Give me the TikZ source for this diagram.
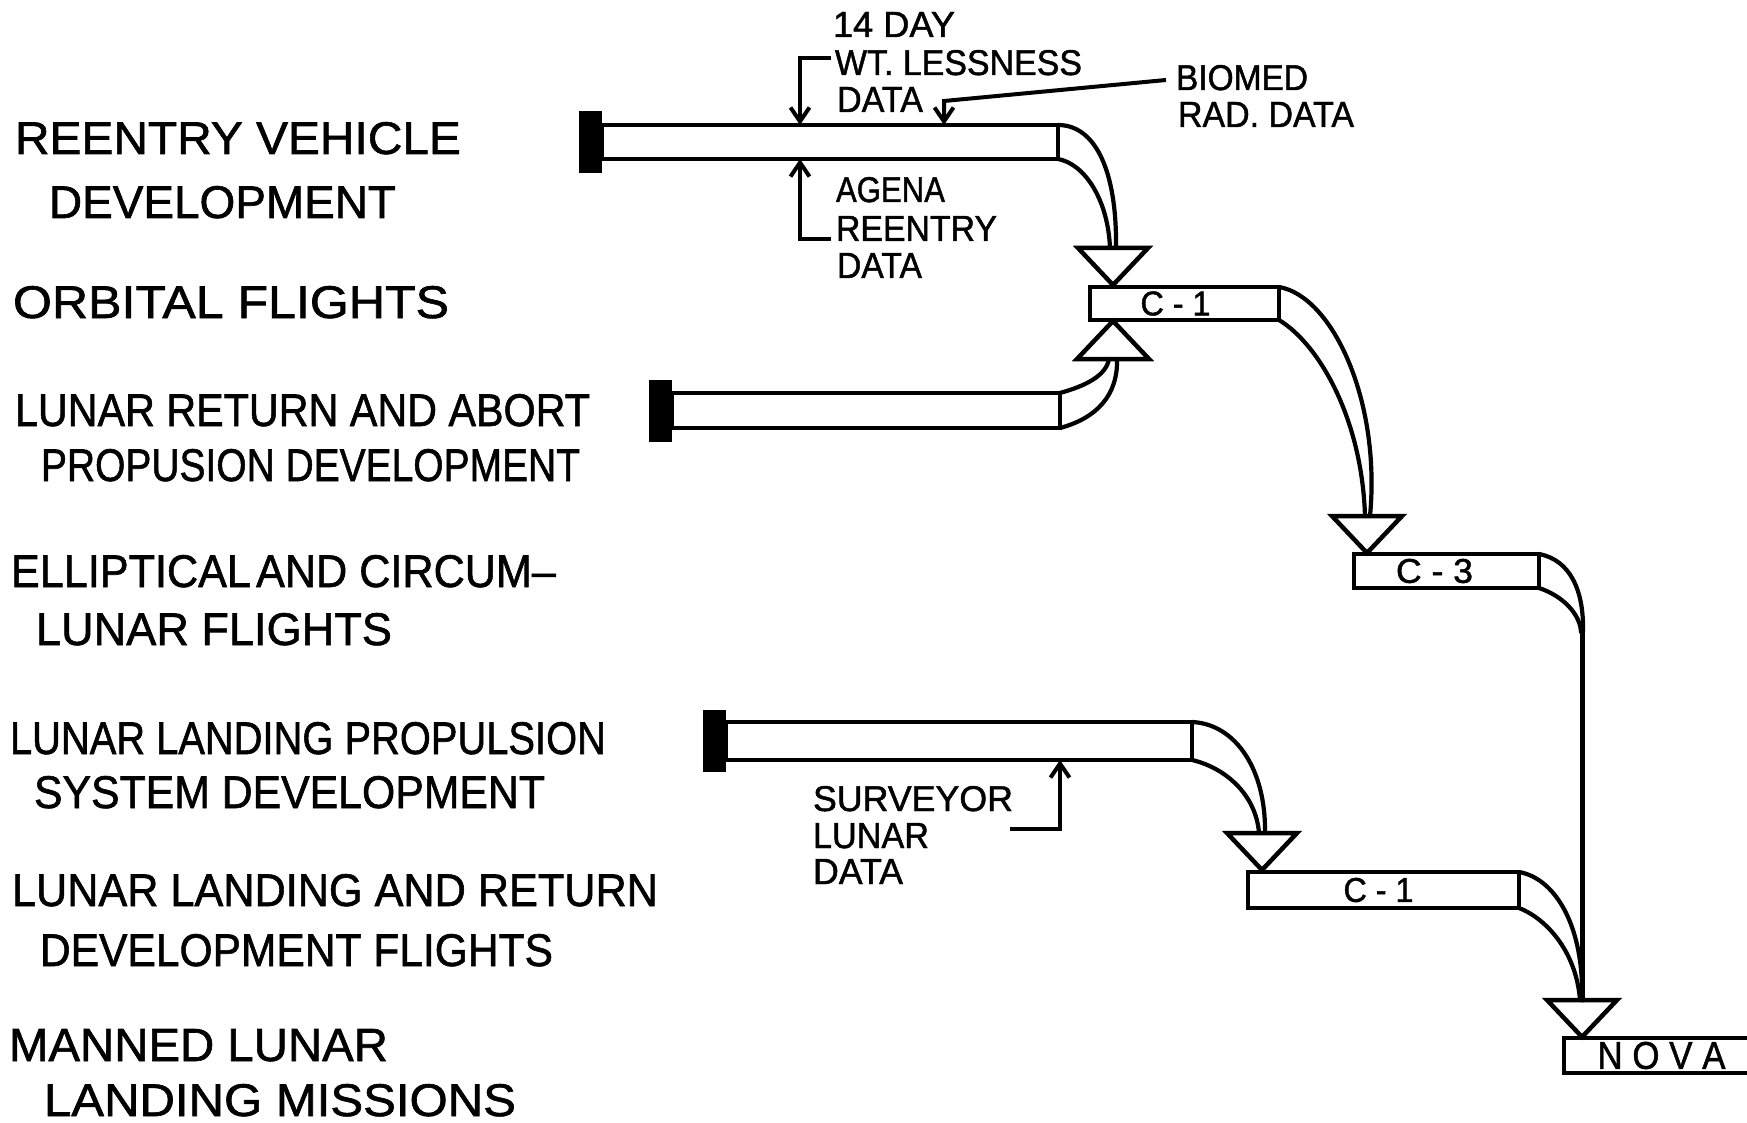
\documentclass[tikz,border=0pt]{standalone}
\usepackage{fontspec}
\setmainfont{Liberation Sans}
\newfontfamily\lblfont{Liberation Sans}[FakeBold=1.3]
\usepackage{graphicx}
\usetikzlibrary{arrows.meta}
\newcommand{\BigLbl}[2]{\resizebox{#1pt}{32pt}{#2}}
\newcommand{\SmLbl}[2]{\resizebox{#1pt}{25pt}{#2}}
\newcommand{\TriDown}[1]{\draw[tri] (#1) ++(-35,0) -- ++(70,0) -- ++(-35,37) -- cycle;}
\newcommand{\TriUp}[1]{\draw[tri] (#1) ++(-36,0) -- ++(72,0) -- ++(-36,-38) -- cycle;}
\begin{document}
\begin{tikzpicture}[x=1pt,y=-1pt,
  lab/.style={anchor=base west, inner sep=0pt, outer sep=0pt, font=\lblfont\fontsize{46}{46}\selectfont},
  slab/.style={anchor=base west, inner sep=0pt, outer sep=0pt, font=\lblfont\fontsize{35}{35}\selectfont},
  barst/.style={draw, line width=4.5pt, anchor=north west, inner sep=0pt, outer sep=0pt},
  capst/.style={fill=black, draw=black, line width=1pt, anchor=east, inner sep=0pt, minimum width=22pt, minimum height=61pt},
  boxst/.style={draw, line width=4.5pt, anchor=north west, inner sep=0pt, outer sep=0pt},
  btxt/.style={inner sep=0pt, font=\lblfont\fontsize{34}{34}\selectfont},
  tri/.style={draw, line width=4.5pt, line join=miter},
  horn/.style={draw, line width=4.2pt, line cap=round},
  arr/.style={draw, line width=4pt, -{Straight Barb[length=14pt,width=19pt]}},
]
\useasboundingbox (0,0) rectangle (1747,1123);
\clip (0,0) rectangle (1747,1123);
\fill[white] (0,0) rectangle (1747,1123);

% ---- left labels
\node[lab] (l1)  at (15,154)  {\BigLbl{446}{REENTRY VEHICLE}};
\node[lab] (l2)  at (49,218)  {\BigLbl{347}{DEVELOPMENT}};
\node[lab] (l3)  at (13,318)  {\BigLbl{436}{ORBITAL FLIGHTS}};
\node[lab] (l4)  at (15,426)  {\BigLbl{575}{LUNAR RETURN AND ABORT}};
\node[lab] (l5)  at (41,481)  {\BigLbl{539}{PROPUSION DEVELOPMENT}};
\node[lab] (l6)  at (11,587)  {\BigLbl{545}{ELLIPTICAL\hspace{0.12em}AND CIRCUM–}};
\node[lab] (l7)  at (36,645)  {\BigLbl{356}{LUNAR FLIGHTS}};
\node[lab] (l8)  at (10,754)  {\BigLbl{596}{LUNAR LANDING PROPULSION}};
\node[lab] (l9)  at (34,808)  {\BigLbl{511}{SYSTEM DEVELOPMENT}};
\node[lab] (l10) at (12,906)  {\BigLbl{646}{LUNAR LANDING AND RETURN}};
\node[lab] (l11) at (40,966)  {\BigLbl{513}{DEVELOPMENT FLIGHTS}};
\node[lab] (l12) at (9,1061)  {\BigLbl{379}{MANNED LUNAR}};
\node[lab] (l13) at (44,1116) {\BigLbl{472}{LANDING MISSIONS}};

% ---- small labels
\node[slab] (s1)  at (833,37)   {\SmLbl{122}{14 DAY}};
\node[slab] (s2)  at (835,75)   {\SmLbl{247}{WT. LESSNESS}};
\node[slab] (s3)  at (837,112)  {\SmLbl{86}{DATA}};
\node[slab] (s4)  at (1176,90)  {\SmLbl{132}{BIOMED}};
\node[slab] (s5)  at (1178,127) {\SmLbl{176}{RAD. DATA}};
\node[slab] (s6)  at (836,202)  {\SmLbl{109}{AGENA}};
\node[slab] (s7)  at (836,241)  {\SmLbl{161}{REENTRY}};
\node[slab] (s8)  at (837,278)  {\SmLbl{85}{DATA}};
\node[slab] (s9)  at (813,811)  {\SmLbl{200}{SURVEYOR}};
\node[slab] (s10) at (813,848)  {\SmLbl{116}{LUNAR}};
\node[slab] (s11) at (813,884)  {\SmLbl{90}{DATA}};

% ---- bars with caps
\node[barst, minimum width=456pt, minimum height=34pt] (b1) at (602,125) {};
\node[capst] (c1) at (b1.west) {};
\node[barst, minimum width=388pt, minimum height=35pt] (b2) at (672,393) {};
\node[capst] (c2) at (b2.west) {};
\node[barst, minimum width=466pt, minimum height=38pt] (b3) at (726,722) {};
\node[capst] (c3) at (b3.west) {};

% ---- boxes
\node[boxst, minimum width=189pt, minimum height=33pt] (k1) at (1090,287) {};
\node[boxst, minimum width=185pt, minimum height=34pt] (k3) at (1354,554) {};
\node[boxst, minimum width=271pt, minimum height=36pt] (k2) at (1248,872) {};
\node[boxst, minimum width=200pt, minimum height=35pt] (kn) at (1564,1038) {};
\node[btxt] (k1t) at ([xshift=-9pt]k1.center) {\resizebox{70pt}{24pt}{C - 1}};
\node[btxt] (k3t) at ([xshift=-12pt]k3.center) {\resizebox{77pt}{24pt}{C - 3}};
\node[btxt] (k2t) at ([xshift=-5pt]k2.center) {\resizebox{70pt}{24pt}{C - 1}};
\node[btxt] (knt) at (1661.5,1055.5) {\resizebox{128pt}{27pt}{N\hspace{0.28em}O\hspace{0.28em}V\hspace{0.28em}A}};

% ---- triangle base centres
\coordinate (t1) at (1113,248);
\coordinate (t2) at (1113,359);
\coordinate (t3) at (1367,516);
\coordinate (t4) at (1262,833);
\coordinate (t5) at (1582,1000);
\coordinate (v1) at (1582,632);
\TriDown{t1}
\TriUp{t2}
\TriDown{t3}
\TriDown{t4}
\TriDown{t5}

% ---- horn connectors
\draw[horn] (b1.north east) .. controls (1095,125) and (1117,170) .. ([xshift=3pt]t1);
\draw[horn] (b1.south east) .. controls (1085,164) and (1108,200) .. ([xshift=-3pt]t1);

\draw[horn] (b2.north east) .. controls (1085,386) and (1106,376) .. ([xshift=-4pt]t2);
\draw[horn] (b2.south east) .. controls (1097,418) and (1118,395) .. ([xshift=4pt]t2);

\draw[horn] (k1.north east) .. controls (1332,296) and (1381,400) .. ([xshift=3pt]t3);
\draw[horn] (k1.south east) .. controls (1320,345) and (1362,420) .. ([xshift=-2pt]t3);

\draw[horn] (k3.north east) .. controls (1570,560) and (1584,590) .. ([xshift=1pt]v1);
\draw[horn] (k3.south east) .. controls (1563,596) and (1580,614) .. ([xshift=-1pt]v1);
\draw[horn, line width=5pt] (v1) -- (t5);

\draw[horn] (k2.north east) .. controls (1553,878) and (1580,920) .. (1582,985);
\draw[horn] (k2.south east) .. controls (1545,918) and (1576,950) .. ([xshift=-2pt]t5);

\draw[horn] (b3.north east) .. controls (1236,724) and (1266,770) .. ([xshift=3pt]t4);
\draw[horn] (b3.south east) .. controls (1226,768) and (1256,795) .. ([xshift=-3pt]t4);

% ---- data arrows
\coordinate (a1s) at (831,58);  \coordinate (a1c) at (800,58);
\coordinate (a2s) at (1166,80); \coordinate (a2c) at (944,101);
\coordinate (a3s) at (831,239); \coordinate (a3c) at (800,239);
\coordinate (a4s) at (1010,829); \coordinate (a4c) at (1060,829);
\draw[arr] (a1s) -- (a1c) -- (a1c |- b1.north);
\draw[arr] (a2s) -- (a2c) -- (a2c |- b1.north);
\draw[arr] (a3s) -- (a3c) -- (a3c |- b1.south);
\draw[arr] (a4s) -- (a4c) -- (a4c |- b3.south);
\end{tikzpicture}
\end{document}
